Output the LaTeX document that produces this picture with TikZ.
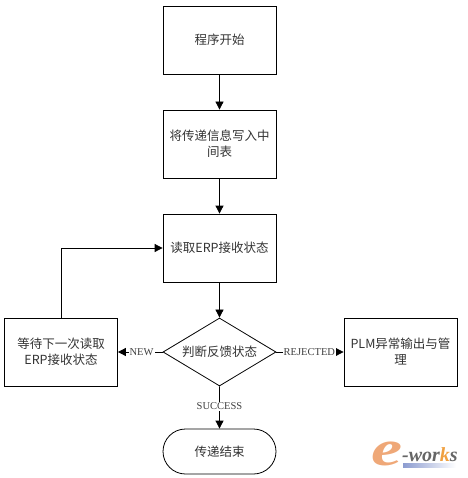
\documentclass[tikz,border=0pt]{standalone}
\usepackage{fontspec}
\usetikzlibrary{arrows.meta,shapes.geometric,shapes.misc}
\setmainfont{Liberation Serif}
\newfontfamily\cjk{Noto Sans CJK SC}
\definecolor{logoe}{HTML}{EFA878}
\definecolor{logok}{HTML}{F0A040}
\definecolor{logobar}{HTML}{8C9CD0}
\begin{document}
\begin{tikzpicture}[x=1pt,y=-1pt,
  cjkfont/.style={font=\cjk\fontsize{12.5}{16}\selectfont,text=black!80},
  box/.style={draw,line width=0.8pt,minimum width=113pt,minimum height=68pt,inner sep=2pt,align=center,cjkfont},
  dec/.style={draw,diamond,aspect=1.66,line width=0.8pt,minimum width=113pt,minimum height=68pt,inner sep=0pt,cjkfont},
  term/.style={draw,rounded rectangle,line width=0.8pt,minimum width=113pt,minimum height=45pt,text width=91pt,align=center,inner xsep=0pt,cjkfont},
  conn/.style={draw,line width=0.8pt,-{Triangle[length=8pt,width=8pt]}},
  lab/.style={fill=white,inner sep=1pt,font=\fontsize{10.5}{12}\selectfont,text=black!75}]
\useasboundingbox (0,0) rectangle (467,478);
\node[box] (start) at (219.5,40) {程序开始};
\node[box] (write) at (219.5,144) {将传递信息写入中\\间表};
\node[box] (read) at (219.5,248) {读取ERP接收状态};
\node[dec] (judge) at (219.5,352) {判断反馈状态};
\node[box] (wait) at (61,352) {等待下一次读取\\ERP接收状态};
\node[box] (err) at (400.5,352) {PLM异常输出与管\\理};
\node[term] (end) at (219.5,451.5) {传递结束};
\draw[conn] (start) -- (write);
\draw[conn] (write) -- (read);
\draw[conn] (read) -- (judge);
\draw[conn] (judge) -- node[lab,pos=.47]{NEW} (wait);
\draw[conn] (judge) -- node[lab,pos=.49]{REJECTED} (err);
\draw[conn] (judge) -- node[lab,pos=.47]{SUCCESS} (end);
\draw[conn] (wait.north) |- (read.west);
% logo
\shade[left color=logobar,right color=white,draw=none] (403,463) rectangle (456,467);
\node[inner sep=0pt,anchor=base,xscale=1.4,text=logoe,font=\bfseries\itshape\fontsize{50}{50}\selectfont] (loge) at (387,465) {e};
\node[inner sep=0pt,anchor=base west,text=black!60,font=\bfseries\itshape\fontsize{20}{20}\selectfont] (logw) at (402,461) {-wor\textcolor{logok}{k}s};
\end{tikzpicture}
\end{document}
